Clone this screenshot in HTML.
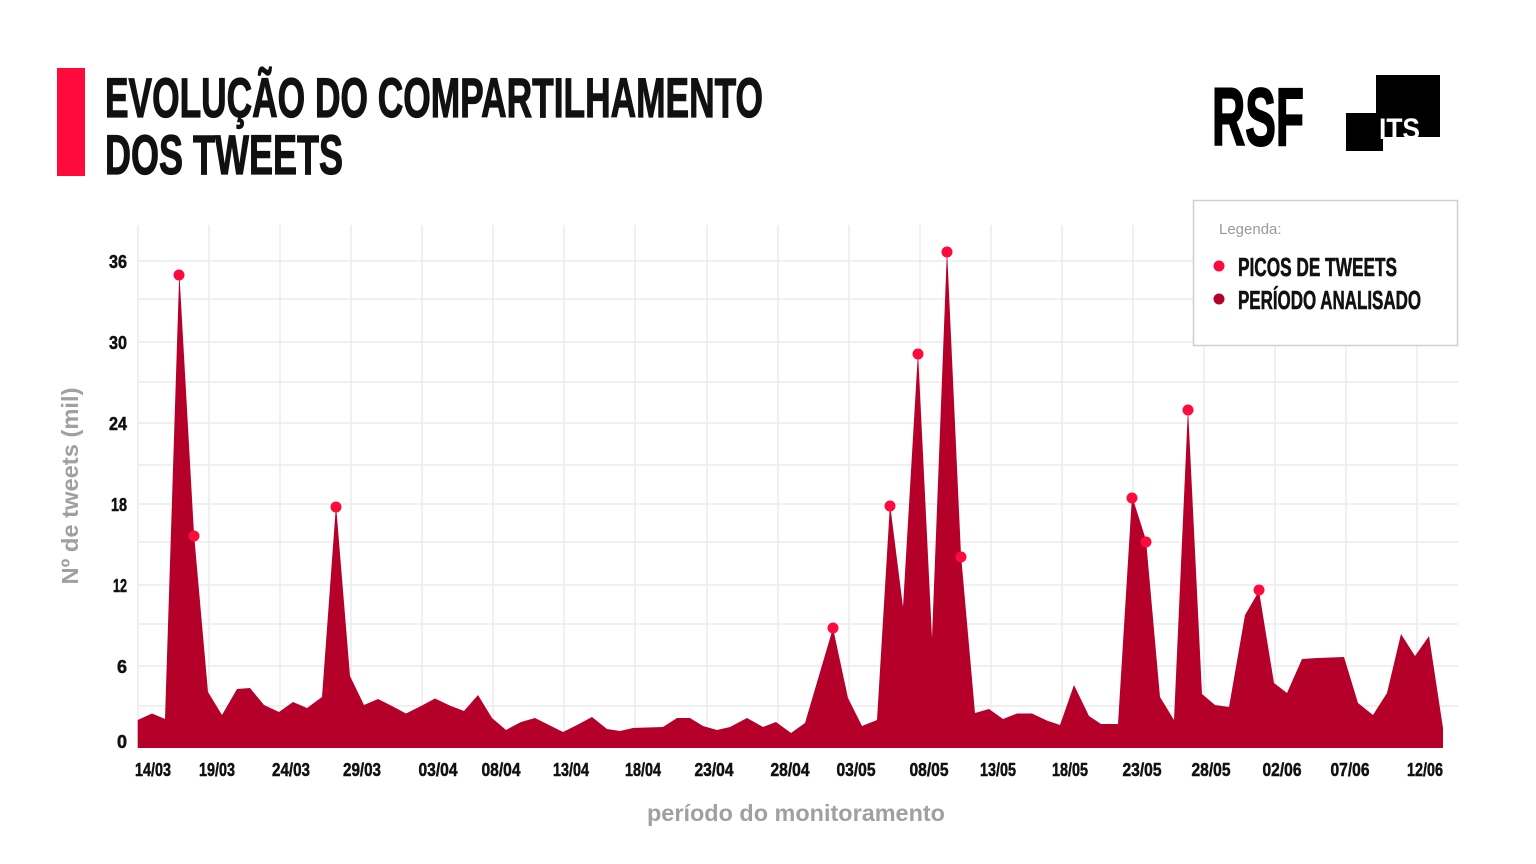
<!DOCTYPE html>
<html><head><meta charset="utf-8"><style>
html,body{margin:0;padding:0;background:#fff;}
svg{display:block;font-family:"Liberation Sans",sans-serif;}
</style></head><body>
<svg width="1536" height="864" viewBox="0 0 1536 864" xmlns="http://www.w3.org/2000/svg">
<rect width="1536" height="864" fill="#fff"/>
<!-- title -->
<rect x="57" y="68" width="28" height="108" fill="#ff0a3c"/>
<text x="105" y="117" font-size="56" font-weight="bold" fill="#111" stroke="#111" stroke-width="1.2" textLength="658" lengthAdjust="spacingAndGlyphs">EVOLUÇÃO DO COMPARTILHAMENTO</text>
<text x="105" y="174" font-size="56" font-weight="bold" fill="#111" stroke="#111" stroke-width="1.2" textLength="238" lengthAdjust="spacingAndGlyphs">DOS TWEETS</text>
<!-- logos -->
<text x="1212" y="145" font-size="82" font-weight="bold" fill="#000" stroke="#000" stroke-width="2" textLength="92" lengthAdjust="spacingAndGlyphs">RSF</text>
<rect x="1376" y="75" width="64" height="62" fill="#000"/>
<rect x="1346" y="113" width="37" height="38" fill="#000"/>
<text x="1379" y="139" font-size="30" font-weight="bold" fill="#fff" textLength="41" lengthAdjust="spacingAndGlyphs">ITS</text>
<!-- grid -->
<g stroke="#ececec" stroke-width="1.5">
<line x1="137" y1="261" x2="1458" y2="261"/><line x1="137" y1="299" x2="1458" y2="299"/>
<line x1="137" y1="342" x2="1458" y2="342"/><line x1="137" y1="382" x2="1458" y2="382"/>
<line x1="137" y1="423" x2="1458" y2="423"/><line x1="137" y1="465" x2="1458" y2="465"/>
<line x1="137" y1="504" x2="1458" y2="504"/><line x1="137" y1="542" x2="1458" y2="542"/>
<line x1="137" y1="585" x2="1458" y2="585"/><line x1="137" y1="624" x2="1458" y2="624"/>
<line x1="137" y1="666" x2="1458" y2="666"/><line x1="137" y1="706" x2="1458" y2="706"/>
<line x1="138" y1="225" x2="138" y2="748"/><line x1="209" y1="225" x2="209" y2="748"/>
<line x1="280" y1="225" x2="280" y2="748"/><line x1="351" y1="225" x2="351" y2="748"/>
<line x1="422" y1="225" x2="422" y2="748"/><line x1="493" y1="225" x2="493" y2="748"/>
<line x1="564" y1="225" x2="564" y2="748"/><line x1="635" y1="225" x2="635" y2="748"/>
<line x1="707" y1="225" x2="707" y2="748"/><line x1="778" y1="225" x2="778" y2="748"/>
<line x1="849" y1="225" x2="849" y2="748"/><line x1="920" y1="225" x2="920" y2="748"/>
<line x1="991" y1="225" x2="991" y2="748"/><line x1="1062" y1="225" x2="1062" y2="748"/>
<line x1="1133" y1="225" x2="1133" y2="748"/><line x1="1204" y1="225" x2="1204" y2="748"/>
<line x1="1275" y1="225" x2="1275" y2="748"/><line x1="1346" y1="225" x2="1346" y2="748"/>
<line x1="1417" y1="225" x2="1417" y2="748"/>
</g>
<!-- area -->
<polygon fill="#b5002a" points="137.7,748 137.7,720 152,713.5 165,719 179.3,272 194,534 208,692 222,715 237,689 250,688 264,705 279,712 293,702 307,708 322,697 336,505 350,676 364,705 378,699 392,706 406,713.5 421,706 435,698.5 450,705.6 464,711 478,695 492,718 506,730 521,722 535,718 549,725 563,732 577,725 592,717 607,729 620,731 633,728 663,727 677,718 690,718 703,726 717,730 730,727 747,718 763,727 776,722 791,733 805,723 833,628 848,698 862,726 877,720 890,504 903,607 918,352 932,638 947,249 961,555 975,713 989,709 1003,719 1017,713.5 1032,713.5 1047,720.6 1060,725 1074,685 1089,716 1101,724 1118,724 1132,496 1146,540 1160,697 1174,720 1188,408 1202,694 1215,705 1229,707 1245,615 1259,591 1274,683 1287,693 1302,659 1317,658 1344,657 1358,703 1373,715 1387,693 1401,634 1415,656 1429,636 1443,728 1443,748"/>
<!-- peaks -->
<g fill="#ff0a3c">
<circle cx="179" cy="275" r="5.5"/><circle cx="194" cy="536" r="5.5"/><circle cx="336" cy="507" r="5.5"/>
<circle cx="833" cy="628" r="5.5"/><circle cx="890" cy="506" r="5.5"/><circle cx="918" cy="354" r="5.5"/>
<circle cx="947" cy="252" r="5.5"/><circle cx="961" cy="557" r="5.5"/><circle cx="1132" cy="498" r="5.5"/>
<circle cx="1146" cy="542" r="5.5"/><circle cx="1188" cy="410" r="5.5"/><circle cx="1259" cy="590" r="5.5"/>
</g>
<!-- y ticks -->
<g font-size="18" font-weight="bold" fill="#111" stroke="#111" stroke-width="0.5" text-anchor="end">
<text x="127" y="268" textLength="18" lengthAdjust="spacingAndGlyphs">36</text>
<text x="127" y="349" textLength="18" lengthAdjust="spacingAndGlyphs">30</text>
<text x="127" y="430" textLength="18" lengthAdjust="spacingAndGlyphs">24</text>
<text x="127" y="511" textLength="16" lengthAdjust="spacingAndGlyphs">18</text>
<text x="127" y="592" textLength="14" lengthAdjust="spacingAndGlyphs">12</text>
<text x="127" y="673">6</text>
<text x="127" y="748">0</text>
</g>
<!-- x ticks -->
<g font-size="18" font-weight="bold" fill="#111" stroke="#111" stroke-width="0.5" text-anchor="middle">
<text x="153" y="776" textLength="36" lengthAdjust="spacingAndGlyphs">14/03</text>
<text x="217" y="776" textLength="36" lengthAdjust="spacingAndGlyphs">19/03</text>
<text x="291" y="776" textLength="38" lengthAdjust="spacingAndGlyphs">24/03</text>
<text x="362" y="776" textLength="38" lengthAdjust="spacingAndGlyphs">29/03</text>
<text x="438" y="776" textLength="39" lengthAdjust="spacingAndGlyphs">03/04</text>
<text x="501" y="776" textLength="39" lengthAdjust="spacingAndGlyphs">08/04</text>
<text x="571" y="776" textLength="36" lengthAdjust="spacingAndGlyphs">13/04</text>
<text x="643" y="776" textLength="36" lengthAdjust="spacingAndGlyphs">18/04</text>
<text x="714" y="776" textLength="39" lengthAdjust="spacingAndGlyphs">23/04</text>
<text x="790" y="776" textLength="39" lengthAdjust="spacingAndGlyphs">28/04</text>
<text x="856" y="776" textLength="39" lengthAdjust="spacingAndGlyphs">03/05</text>
<text x="929" y="776" textLength="39" lengthAdjust="spacingAndGlyphs">08/05</text>
<text x="998" y="776" textLength="36" lengthAdjust="spacingAndGlyphs">13/05</text>
<text x="1070" y="776" textLength="36" lengthAdjust="spacingAndGlyphs">18/05</text>
<text x="1142" y="776" textLength="39" lengthAdjust="spacingAndGlyphs">23/05</text>
<text x="1211" y="776" textLength="39" lengthAdjust="spacingAndGlyphs">28/05</text>
<text x="1282" y="776" textLength="39" lengthAdjust="spacingAndGlyphs">02/06</text>
<text x="1350" y="776" textLength="39" lengthAdjust="spacingAndGlyphs">07/06</text>
<text x="1425" y="776" textLength="36" lengthAdjust="spacingAndGlyphs">12/06</text>
</g>
<!-- axis titles -->
<text x="796" y="821" font-size="23" font-weight="bold" fill="#a0a0a0" text-anchor="middle" textLength="298" lengthAdjust="spacingAndGlyphs">período do monitoramento</text>
<text transform="translate(78,486) rotate(-90)" font-size="23" font-weight="bold" fill="#a0a0a0" text-anchor="middle" textLength="197" lengthAdjust="spacingAndGlyphs">Nº de tweets (mil)</text>
<!-- legend -->
<rect x="1193.5" y="200.5" width="264" height="145" fill="#fff" stroke="#cfcfcf" stroke-width="1.5"/>
<text x="1219" y="234" font-size="15" fill="#999">Legenda:</text>
<circle cx="1219" cy="266" r="5.5" fill="#ff0a3c"/>
<circle cx="1219" cy="299" r="5.5" fill="#b5002a"/>
<text x="1238" y="276" font-size="26" font-weight="bold" fill="#111" stroke="#111" stroke-width="0.6" textLength="159" lengthAdjust="spacingAndGlyphs">PICOS DE TWEETS</text>
<text x="1238" y="309" font-size="26" font-weight="bold" fill="#111" stroke="#111" stroke-width="0.6" textLength="183" lengthAdjust="spacingAndGlyphs">PERÍODO ANALISADO</text>
</svg>
</body></html>
